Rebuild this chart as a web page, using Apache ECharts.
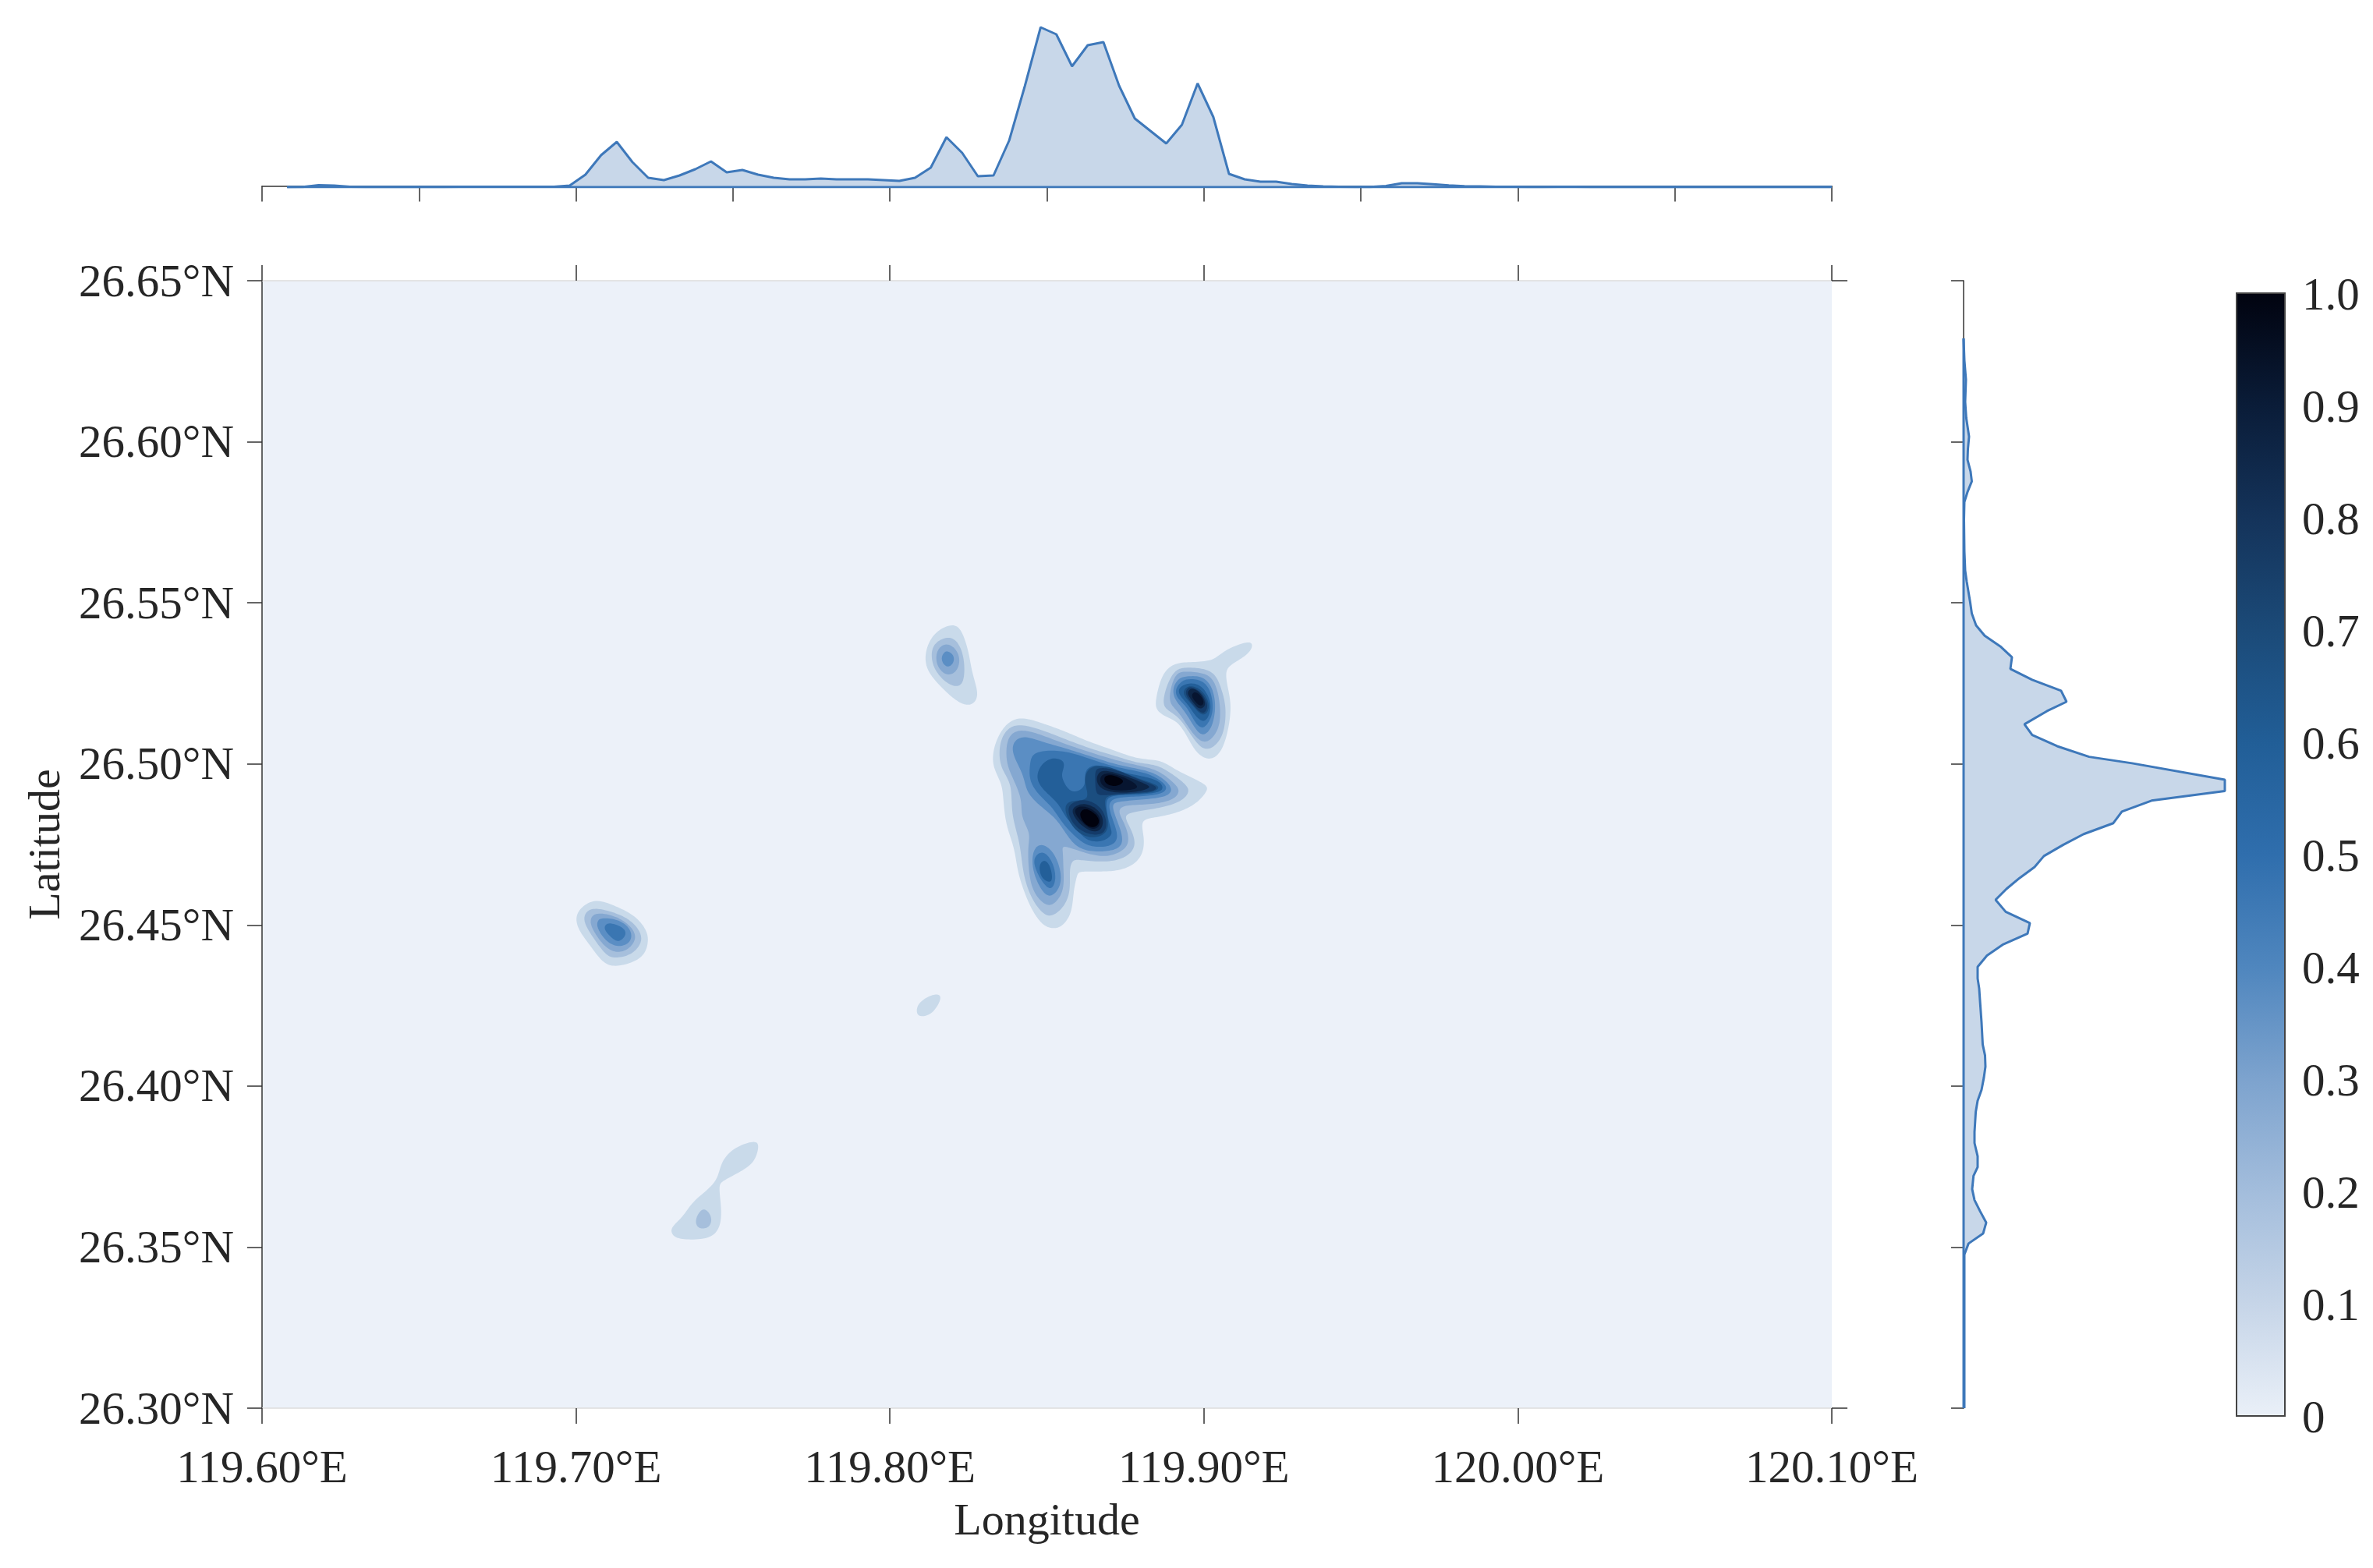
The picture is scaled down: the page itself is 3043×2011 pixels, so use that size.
<!DOCTYPE html>
<html><head><meta charset="utf-8">
<style>html,body{margin:0;padding:0;background:#fff}#c{width:3043px;height:2011px}</style>
<script src="https://cdn.jsdelivr.net/npm/echarts@6/dist/echarts.min.js"></script>
</head><body><div id="c"></div>
<script>
// ---- marginal density along longitude (arbitrary density units) ----
const topLon = [119.608,119.613,119.618,119.623,119.628,119.633,119.638,119.643,119.648,119.653,119.658,119.663,119.668,119.673,119.678,119.683,119.688,119.693,119.698,119.703,119.708,119.713,119.718,119.723,119.728,119.733,119.738,119.743,119.748,119.753,119.758,119.763,119.768,119.773,119.778,119.783,119.788,119.793,119.798,119.803,119.808,119.813,119.818,119.823,119.828,119.833,119.838,119.843,119.848,119.853,119.858,119.863,119.868,119.873,119.878,119.883,119.888,119.893,119.898,119.903,119.908,119.913,119.918,119.923,119.928,119.933,119.938,119.943,119.948,119.953,119.958,119.963,119.968,119.973,119.978,119.983,119.988,119.993,119.998,120.003,120.008,120.013,120.018,120.023,120.028,120.033,120.038,120.043,120.048,120.053,120.058,120.063,120.068,120.073,120.078,120.083,120.088,120.093,120.1];
const topDensity = [0,0.3,2.5,2,0.5,0.3,0.2,0.2,0.3,0.3,0.3,0.4,0.5,0.5,0.4,0.4,0.4,0.5,2,16,41,58,32,12,9,15,23,33,19,22,16,12,10,10,11,10,10,10,9,8,12,25,64,44,14,15,60,130,205,196,155,182,186,130,88,72,56,80,133,90,17,10,7,7,4,2,1,0.4,0.3,0.3,1.5,5,5,3.7,2.3,1.3,1,0.5,0.4,0.3,0.3,0.4,0.4,0.3,0.3,0.3,0.3,0.3,0.3,0.2,0.2,0.2,0.2,0.2,0.2,0.2,0.2,0.2,0.2];
// ---- marginal density along latitude ----
const rightLat = [26.3000,26.3477,26.3511,26.3542,26.3576,26.3612,26.3646,26.3680,26.3721,26.3748,26.3782,26.3823,26.3857,26.3920,26.3954,26.3988,26.4026,26.4060,26.4095,26.4129,26.4198,26.4266,26.4302,26.4334,26.4370,26.4405,26.4440,26.4473,26.4506,26.4541,26.4578,26.4612,26.4646,26.4680,26.4714,26.4749,26.4782,26.4816,26.4852,26.4886,26.4916,26.4951,26.5002,26.5022,26.5055,26.5090,26.5123,26.5164,26.5193,26.5227,26.5261,26.5295,26.5331,26.5365,26.5398,26.5430,26.5467,26.5501,26.5566,26.5600,26.5660,26.5758,26.5813,26.5844,26.5877,26.5907,26.5944,26.5977,26.6016,26.6074,26.6124,26.6193,26.6253,26.6321];
const rightDensity = [1,1,6.3,25,29,21,14,11,12.7,18,18,14,14,15.6,18,23,26,28,27.5,24.5,23,21,20,18,18,30,51,82,85,54,41,55,72,91,103,128,154,192,203,241,335,335,216,161,120,88,78,107,132,125,88,60,62,47,27,16,10.5,8.5,4,2,1,0.5,1,5,10.5,9,5,5.5,7,3.4,2,3,1,0];
// ---- contour rings, in 1e-4 degree offsets from 119E / 26N ----
const mainL1 = [[8419,5142],[8486,5125],[8560,5100],[8626,5072],[8709,5044],[8792,5016],[8858,5011],[8908,4983],[8958,4959],[9003,4935],[9007,4915],[8974,4878],[8916,4850],[8850,4834],[8804,4822],[8809,4774],[8804,4725],[8775,4689],[8726,4670],[8668,4666],[8610,4665],[8597,4652],[8585,4604],[8577,4539],[8548,4499],[8519,4491],[8486,4503],[8453,4548],[8428,4604],[8407,4669],[8395,4741],[8370,4814],[8361,4894],[8353,4943],[8328,4999],[8337,5064],[8370,5120]];
const mainL2 = [[8419,5120],[8486,5104],[8560,5076],[8651,5044],[8734,5020],[8792,5003],[8850,4995],[8900,4967],[8941,4935],[8949,4911],[8920,4882],[8850,4862],[8775,4850],[8751,4834],[8767,4798],[8780,4749],[8751,4713],[8693,4697],[8618,4700],[8585,4700],[8573,4669],[8573,4612],[8556,4563],[8519,4531],[8486,4539],[8448,4592],[8424,4669],[8413,4757],[8388,4846],[8386,4935],[8353,4991],[8352,5064],[8378,5108]];
const mainL3 = [[8419,5104],[8486,5088],[8552,5064],[8651,5032],[8734,5008],[8809,4991],[8858,4975],[8900,4943],[8920,4915],[8891,4886],[8817,4874],[8751,4870],[8730,4850],[8751,4806],[8759,4757],[8734,4729],[8684,4713],[8618,4725],[8556,4744],[8552,4725],[8552,4677],[8552,4612],[8527,4572],[8498,4563],[8461,4600],[8444,4660],[8440,4741],[8444,4786],[8419,4838],[8418,4894],[8386,4967],[8372,5016],[8378,5080]];
const mainL4 = [[8428,5084],[8486,5068],[8560,5048],[8651,5020],[8734,4995],[8817,4979],[8867,4955],[8896,4923],[8875,4899],[8809,4890],[8734,4882],[8709,4866],[8734,4798],[8738,4753],[8709,4733],[8651,4729],[8593,4745],[8552,4798],[8519,4838],[8469,4878],[8436,4919],[8424,4967],[8395,5024],[8395,5064]];
const lowL4 = [[8482,4749],[8519,4725],[8542,4669],[8540,4620],[8511,4590],[8482,4612],[8457,4669],[8457,4725]];
const mainL5 = [[8461,5032],[8519,5041],[8585,5032],[8660,5008],[8734,4987],[8817,4971],[8867,4943],[8879,4923],[8858,4907],[8800,4899],[8726,4894],[8697,4870],[8718,4806],[8722,4765],[8693,4745],[8643,4745],[8602,4765],[8552,4814],[8519,4862],[8486,4894],[8448,4943],[8448,4999]];
const lowL5 = [[8490,4725],[8517,4693],[8527,4644],[8511,4612],[8482,4640],[8461,4685],[8465,4713]];
const mainL6 = [[8519,5017],[8552,5008],[8552,4983],[8548,4959],[8568,4923],[8593,4915],[8622,4935],[8622,4975],[8660,4997],[8734,4975],[8817,4959],[8858,4943],[8867,4923],[8846,4911],[8784,4904],[8709,4900],[8689,4874],[8701,4806],[8705,4782],[8676,4761],[8626,4765],[8593,4802],[8560,4834],[8535,4878],[8490,4919],[8469,4959],[8486,4999]];
const lowL6 = [[8494,4700],[8511,4677],[8516,4640],[8501,4636],[8482,4652],[8477,4685]];
const mainL7 = [[8660,4993],[8709,4987],[8767,4963],[8838,4939],[8854,4925],[8829,4911],[8767,4907],[8709,4902],[8684,4886],[8694,4830],[8689,4790],[8651,4772],[8602,4786],[8568,4830],[8560,4870],[8585,4886],[8631,4893],[8620,4943],[8631,4979]];
const upL8 = [[8668,4987],[8726,4979],[8792,4951],[8846,4931],[8833,4915],[8767,4909],[8693,4904],[8660,4907],[8655,4943],[8655,4971]];
const lowL8 = [[8631,4886],[8676,4858],[8689,4806],[8668,4782],[8626,4786],[8585,4814],[8568,4862],[8593,4882]];
const upL9 = [[8684,4979],[8742,4965],[8809,4939],[8825,4927],[8792,4915],[8726,4911],[8676,4923],[8660,4947],[8664,4967]];
const lowL9 = [[8631,4874],[8672,4846],[8676,4806],[8651,4790],[8610,4810],[8581,4850],[8597,4870]];
const upL10 = [[8697,4971],[8751,4955],[8788,4931],[8767,4920],[8709,4919],[8676,4935],[8672,4959]];
const lowL10 = [[8631,4864],[8664,4842],[8668,4810],[8643,4798],[8614,4818],[8589,4850],[8602,4866]];
const upL11 = [[8705,4965],[8734,4955],[8742,4943],[8718,4931],[8689,4939],[8684,4959]];
const lowL11 = [[8631,4858],[8660,4838],[8664,4814],[8643,4803],[8618,4818],[8606,4842],[8614,4856]];
const nwL1 = [[8200,5431],[8229,5407],[8250,5347],[8262,5282],[8279,5222],[8266,5190],[8237,5185],[8196,5209],[8146,5258],[8117,5302],[8117,5355],[8146,5407]];
const nwL2 = [[8188,5393],[8221,5367],[8236,5314],[8233,5258],[8212,5242],[8179,5254],[8146,5290],[8134,5330],[8142,5371]];
const nwL3 = [[8185,5371],[8212,5351],[8221,5318],[8208,5286],[8179,5278],[8154,5302],[8148,5334],[8159,5361]];
const nwL4 = [[8183,5349],[8200,5339],[8203,5318],[8188,5302],[8171,5310],[8165,5330],[8173,5345]];
const neL1 = [[9132,5377],[9153,5369],[9140,5342],[9098,5314],[9072,5290],[9075,5242],[9086,5177],[9074,5096],[9053,5040],[9020,5016],[8982,5032],[8954,5072],[8920,5125],[8883,5145],[8850,5169],[8850,5209],[8867,5270],[8900,5306],[8949,5316],[9024,5321],[9065,5351]];
const neL2 = [[8941,5298],[8999,5294],[9036,5274],[9057,5225],[9069,5169],[9061,5096],[9032,5056],[8999,5048],[8966,5080],[8929,5133],[8896,5161],[8871,5185],[8883,5242],[8908,5286]];
const neL3 = [[8941,5286],[8999,5280],[9032,5254],[9049,5193],[9049,5120],[9020,5076],[8991,5072],[8958,5104],[8920,5161],[8891,5193],[8900,5250],[8916,5278]];
const neL4 = [[8941,5270],[8991,5270],[9024,5237],[9036,5177],[9024,5116],[8999,5092],[8974,5108],[8941,5161],[8908,5201],[8904,5237],[8920,5262]];
const neL5 = [[8949,5262],[8991,5258],[9020,5225],[9028,5169],[9016,5133],[8995,5112],[8970,5133],[8945,5177],[8916,5205],[8912,5233],[8929,5254]];
const neL6 = [[8958,5250],[8995,5237],[9020,5193],[9016,5153],[8999,5133],[8974,5149],[8949,5185],[8924,5213],[8924,5237]];
const neL7 = [[8962,5241],[8995,5225],[9016,5185],[9007,5157],[8987,5157],[8962,5185],[8937,5213],[8941,5233]];
const neL8 = [[8962,5237],[8991,5221],[9011,5185],[9003,5162],[8987,5162],[8958,5193],[8943,5217],[8948,5233]];
const neL9 = [[8966,5233],[8987,5221],[9003,5193],[8999,5177],[8982,5173],[8962,5197],[8949,5217],[8954,5229]];
const neL10 = [[8973,5223],[8991,5209],[8999,5189],[8987,5181],[8970,5197],[8962,5213]];
const wL1 = [[7058,4576],[7120,4559],[7182,4530],[7222,4484],[7227,4442],[7204,4396],[7129,4373],[7085,4388],[7045,4438],[7009,4488],[7005,4538]];
const wL2 = [[7058,4551],[7120,4538],[7173,4513],[7204,4475],[7204,4442],[7173,4409],[7120,4399],[7089,4417],[7054,4463],[7029,4505],[7031,4534]];
const wL3 = [[7067,4536],[7129,4524],[7173,4494],[7189,4459],[7164,4425],[7125,4417],[7089,4438],[7058,4480],[7047,4513]];
const wL4 = [[7085,4521],[7138,4513],[7172,4484],[7172,4450],[7138,4434],[7098,4450],[7071,4488],[7070,4509]];
const wL5 = [[7111,4505],[7147,4492],[7158,4471],[7138,4450],[7116,4459],[7093,4484],[7095,4499]];
const sL1 = [[7564,3827],[7580,3812],[7568,3771],[7537,3742],[7475,3708],[7457,3687],[7462,3625],[7457,3566],[7422,3529],[7342,3525],[7311,3537],[7306,3562],[7342,3596],[7377,3646],[7444,3700],[7462,3758],[7502,3804]];
const sL2 = [[7413,3616],[7431,3591],[7422,3562],[7391,3560],[7382,3583],[7395,3610]];
const isleL1 = [[8153,4284],[8160,4267],[8136,4229],[8105,4217],[8087,4225],[8091,4254],[8122,4277]];
// [level, ring], painted in order
const contourBands = [[1,mainL1],[2,mainL2],[3,mainL3],[4,mainL4],[4,lowL4],[5,mainL5],[5,lowL5],[6,mainL6],[6,lowL6],[7,mainL7],[8,upL8],[8,lowL8],[9,upL9],[9,lowL9],[10,upL10],[10,lowL10],[11,upL11],[11,lowL11],
 [1,nwL1],[2,nwL2],[3,nwL3],[4,nwL4],
 [1,neL1],[2,neL2],[3,neL3],[4,neL4],[5,neL5],[6,neL6],[7,neL7],[8,neL8],[9,neL9],[10,neL10],
 [1,wL1],[2,wL2],[3,wL3],[4,wL4],[5,wL5],
 [1,sL1],[2,sL2],[1,isleL1]];
const levelColors = [null,'#C9DAEA','#A6BFDC','#85A8D1','#5B8EC4','#3A76B2','#235F99','#1B4E80','#143B69','#0D2546','#071530','#01020E'];
const colorbarStops = [[1,'#01030F'],[0.9,'#0A1C38'],[0.8,'#14335A'],[0.7,'#1B4A78'],[0.6,'#215E97'],[0.5,'#2F6EAD'],[0.4,'#4F86BE'],[0.3,'#7DA3CE'],[0.2,'#A3BDDC'],[0.1,'#C6D5E8'],[0,'#EAF0F8']];

const FONT = 'Liberation Serif', TXT = '#262626', AX = '#333333', LINE = '#3E78BA', FILL = '#C8D7E9';
const deg = r => r.map(p => [119 + p[0] / 1e4, 26 + p[1] / 1e4]);
const tickStyle = { color: AX, width: 1.5 };

// Closed cubic B-spline through (nearly) the ring's vertices: contours stay free of corners.
function splineRing(pts) {
  const n = pts.length;
  const ctrl = pts.map((p, i) => {
    const a = pts[(i + n - 1) % n], b = pts[(i + 1) % n];
    return [p[0] + (2 * p[0] - a[0] - b[0]) / 6, p[1] + (2 * p[1] - a[1] - b[1]) / 6];
  });
  const out = [];
  for (let i = 0; i < n; i++) {
    const p0 = ctrl[(i + n - 1) % n], p1 = ctrl[i], p2 = ctrl[(i + 1) % n], p3 = ctrl[(i + 2) % n];
    for (let k = 0; k < 10; k++) {
      const t = k / 10, u = 1 - t;
      const w0 = u * u * u / 6, w1 = (3 * t * t * t - 6 * t * t + 4) / 6, w2 = (-3 * t * t * t + 3 * t * t + 3 * t + 1) / 6, w3 = t * t * t / 6;
      out.push([w0 * p0[0] + w1 * p1[0] + w2 * p2[0] + w3 * p3[0], w0 * p0[1] + w1 * p1[1] + w2 * p2[1] + w3 * p3[1]]);
    }
  }
  return out;
}

const chart = echarts.init(document.getElementById('c'), null, { renderer: 'canvas', width: 3043, height: 2011 });
chart.setOption({
  animation: false,
  backgroundColor: '#fff',
  textStyle: { fontFamily: FONT, color: TXT },
  grid: [
    { left: 336, top: 360, width: 2013, height: 1446, show: true, backgroundColor: '#ECF1F9', borderWidth: 0 },
    { left: 336, top: 20, width: 2013, height: 220, show: false },
    { left: 2518, top: 360, width: 340, height: 1446, show: false },
    { left: 2868, top: 376, width: 62, height: 1440, show: false }
  ],
  xAxis: [
    { gridIndex: 0, type: 'value', min: 119.6, max: 120.1, interval: 0.1, position: 'bottom', name: 'Longitude', nameLocation: 'middle', nameGap: 118,
      nameTextStyle: { fontFamily: FONT, fontSize: 58, color: TXT },
      axisLine: { show: true, onZero: false, lineStyle: { color: '#dddddd', width: 1.5 } }, axisTick: { show: true, length: 20, lineStyle: tickStyle },
      axisLabel: { show: true, fontFamily: FONT, fontSize: 59, color: TXT, margin: 50, formatter: v => v.toFixed(2) + '°E', hideOverlap: false }, splitLine: { show: false } },
    { gridIndex: 0, type: 'value', min: 119.6, max: 120.1, interval: 0.1, position: 'top',
      axisLine: { show: true, onZero: false, lineStyle: { color: '#dddddd', width: 1.5 } }, axisTick: { show: true, length: 20, lineStyle: tickStyle }, axisLabel: { show: false }, splitLine: { show: false } },
    { gridIndex: 1, type: 'value', min: 119.6, max: 120.1, interval: 0.05, position: 'bottom', offset: -1.5,
      axisLine: { show: true, onZero: false, lineStyle: { color: AX, width: 1.5 } }, axisTick: { show: true, length: 20, lineStyle: tickStyle }, axisLabel: { show: false }, splitLine: { show: false } },
    { gridIndex: 2, type: 'value', min: 0, max: 340, show: false },
    { gridIndex: 3, type: 'value', min: 0, max: 1, show: false }
  ],
  yAxis: [
    { gridIndex: 0, type: 'value', min: 26.3, max: 26.65, interval: 0.05, position: 'left', name: 'Latitude', nameLocation: 'middle', nameGap: 240,
      nameTextStyle: { fontFamily: FONT, fontSize: 58, color: TXT },
      axisLine: { show: true, onZero: false, lineStyle: { color: AX, width: 1.5 } }, axisTick: { show: true, length: 19, lineStyle: tickStyle },
      axisLabel: { show: true, fontFamily: FONT, fontSize: 59, color: TXT, margin: 36, verticalAlign: 'top', lineHeight: 8, formatter: v => v.toFixed(2) + '°N', hideOverlap: false }, splitLine: { show: false } },
    { gridIndex: 0, type: 'value', min: 26.3, max: 26.65, interval: 0.35, position: 'right',
      axisLine: { show: false, onZero: false }, axisTick: { show: true, length: 20, lineStyle: tickStyle }, axisLabel: { show: false }, splitLine: { show: false } },
    { gridIndex: 1, type: 'value', min: 0, max: 220, show: false },
    { gridIndex: 2, type: 'value', min: 26.3, max: 26.65, interval: 0.05, position: 'left',
      axisLine: { show: true, onZero: false, lineStyle: { color: AX, width: 1.5 } }, axisTick: { show: true, length: 16, lineStyle: tickStyle }, axisLabel: { show: false }, splitLine: { show: false } },
    { gridIndex: 3, type: 'value', min: 0, max: 1, interval: 0.1, position: 'right',
      axisLine: { show: false, onZero: false }, axisTick: { show: true, inside: true, length: 15, lineStyle: { color: AX, width: 1.5 } },
      axisLabel: { show: true, fontFamily: FONT, fontSize: 59, color: TXT, margin: 22, verticalAlign: 'top', lineHeight: 10, formatter: v => v === 0 ? '0' : v.toFixed(1), hideOverlap: false }, splitLine: { show: false } }
  ],
  series: [
    { type: 'custom', name: 'Density contours', coordinateSystem: 'cartesian2d', xAxisIndex: 0, yAxisIndex: 0, silent: true, clip: true, z: 1,
      data: contourBands.map((b, i) => [119 + b[1][0][0] / 1e4, 26 + b[1][0][1] / 1e4, i]),
      renderItem: (params, api) => {
        const band = contourBands[api.value(2)];
        return { type: 'polygon', shape: { points: splineRing(deg(band[1]).map(p => api.coord(p))) }, style: { fill: levelColors[band[0]], stroke: null } };
      } },
    { type: 'line', name: 'Longitude density', xAxisIndex: 2, yAxisIndex: 2, data: topLon.map((x, i) => [x, topDensity[i]]), showSymbol: false, silent: true, z: 3,
      lineStyle: { color: LINE, width: 3 }, areaStyle: { color: FILL, opacity: 1 } },
    { type: 'line', name: 'Longitude baseline', xAxisIndex: 2, yAxisIndex: 2, data: [[topLon[0], 0], [topLon[topLon.length - 1], 0]], showSymbol: false, silent: true, z: 4,
      lineStyle: { color: LINE, width: 3 } },
    { type: 'custom', name: 'Latitude fill', coordinateSystem: 'cartesian2d', xAxisIndex: 3, yAxisIndex: 3, silent: true, z: 2,
      data: [[0, rightLat[0]]],
      renderItem: (params, api) => {
        const pts = rightLat.map((y, i) => api.coord([rightDensity[i], y]));
        pts.push(api.coord([0, rightLat[rightLat.length - 1]]), api.coord([0, rightLat[0]]));
        return { type: 'polygon', shape: { points: pts }, style: { fill: FILL, stroke: null } };
      } },
    { type: 'line', name: 'Latitude density', xAxisIndex: 3, yAxisIndex: 3, data: rightLat.map((y, i) => [rightDensity[i], y]), showSymbol: false, silent: true, z: 3,
      lineStyle: { color: LINE, width: 3 } },
    { type: 'line', name: 'Latitude baseline', xAxisIndex: 3, yAxisIndex: 3, data: [[0, rightLat[0]], [0, rightLat[rightLat.length - 1]]], showSymbol: false, silent: true, z: 4,
      lineStyle: { color: LINE, width: 3 } },
    { type: 'custom', name: 'Colorbar', coordinateSystem: 'cartesian2d', xAxisIndex: 4, yAxisIndex: 4, silent: true, z: 1,
      data: [[0, 0]],
      renderItem: (params, api) => {
        const a = api.coord([0, 1]), b = api.coord([1, 0]);
        return { type: 'rect', shape: { x: a[0], y: a[1], width: b[0] - a[0], height: b[1] - a[1] },
          style: { fill: new echarts.graphic.LinearGradient(0, 0, 0, 1, colorbarStops.map(s => ({ offset: 1 - s[0], color: s[1] }))), stroke: '#444444', lineWidth: 2 } };
      } }
  ]
});
</script></body></html>
